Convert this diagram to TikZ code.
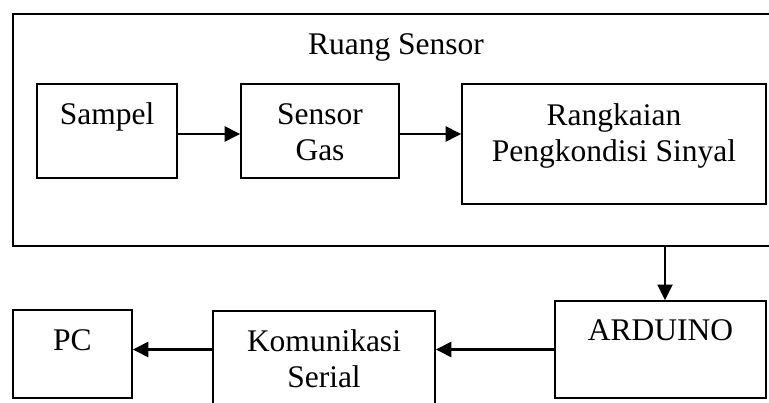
\documentclass[tikz,border=0pt]{standalone}
\usepackage{fontspec}
\setmainfont{Liberation Serif}
\usetikzlibrary{arrows.meta}

\tikzset{
  kotak/.style={draw, line width=1.6pt, inner sep=0pt},
  teks/.style={inner sep=0pt, align=center, font=\fontsize{31.5}{36.5}\selectfont},
  panah/.style={line width=2.3pt, -{Triangle[length=15.5pt,width=15pt]}},
}

\begin{document}
\begin{tikzpicture}[x=1pt, y=-1pt, line join=miter]

  %% ════ 方框（外框 + 各模块）════
  \node[kotak, minimum width=767.3pt, minimum height=232pt] (ruang) at (396.35,130.0) {};
  \node[kotak, minimum width=140pt, minimum height=94pt] (sampel) at (107.0,131.0) {};
  \node[kotak, minimum width=158pt, minimum height=94pt] (sensor) at (320.0,131.0) {};
  \node[kotak, minimum width=304pt, minimum height=120pt] (rangkaian) at (614.0,144.0) {};
  \node[kotak, minimum width=211pt, minimum height=97pt] (arduino) at (660.5,349.5) {};
  \node[kotak, minimum width=222pt, minimum height=104pt] (komunikasi) at (324.0,363.0) {};
  \node[kotak, minimum width=119.3pt, minimum height=88pt] (pc) at (72.35,354.0) {};

  %% ════ 文字（基线坐标；多行取末行基线）════
  \node[teks, anchor=base] (ruangTeks) at (396.0,55.0) {Ruang Sensor};
  \node[teks, anchor=base] (sampelTeks) at (107.0,125.0) {Sampel};
  \node[teks, anchor=base] (sensorTeks) at (320.0,161.0) {Sensor\\Gas};
  \node[teks, anchor=base] (rangkaianTeks) at (614.0,162.0) {Rangkaian\\Pengkondisi Sinyal};
  \node[teks, anchor=base] (arduinoTeks) at (660.5,341.0) {ARDUINO};
  \node[teks, anchor=base] (komunikasiTeks) at (324.0,388.0) {Komunikasi\\Serial};
  \node[teks, anchor=base] (pcTeks) at (72.35,351.0) {PC};

  %% ════ 箭头 ════
  \draw[panah] ([yshift=-3pt]sampel.east) -- ([yshift=-3pt]sensor.west);
  \draw[panah] ([yshift=-3pt]sensor.east) -- ([yshift=-3pt]sensor.east -| rangkaian.west);
  \coordinate (turun) at (665.0,246.0);
  \draw[panah, line width=2.0pt] (turun) -- (turun |- arduino.north);
  \draw[panah] (arduino.west) -- (arduino.west -| komunikasi.east);
  \draw[panah] (arduino.west -| komunikasi.west) -- (arduino.west -| pc.east);

  % 钉死画布
  \pgfresetboundingbox
  \path[use as bounding box] (0,0) rectangle (769,403);
\end{tikzpicture}
\end{document}
